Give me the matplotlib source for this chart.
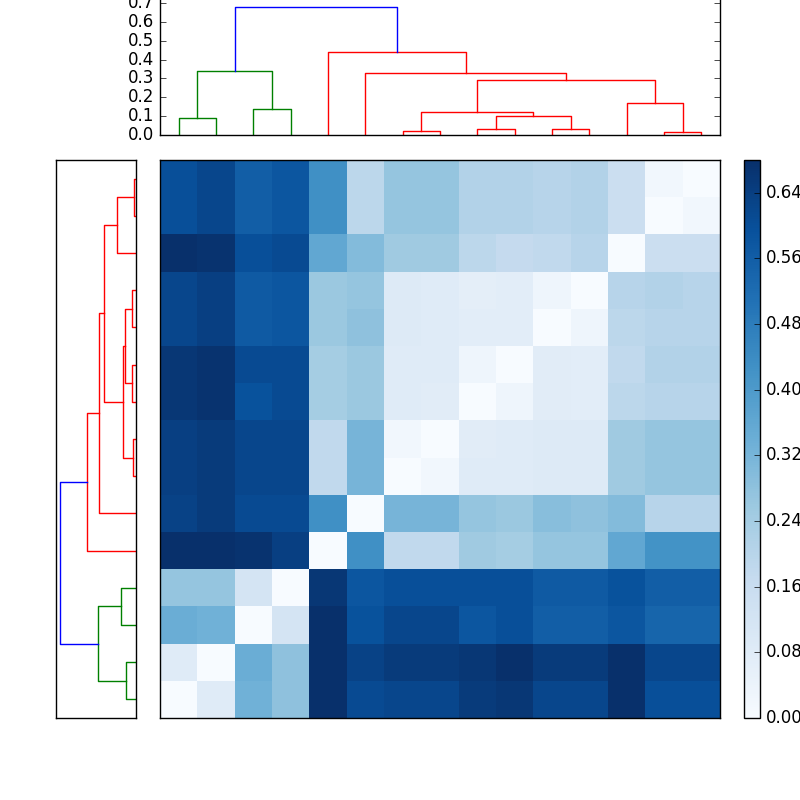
import numpy as np
import matplotlib
matplotlib.use("Agg")
import matplotlib.pyplot as plt

plt.style.use("classic")

# distance matrix, rows listed top to bottom (row 14 .. row 0), columns 0..14
rows_top_down = [
    [0.60, 0.62, 0.56, 0.58, 0.43, 0.19, 0.27, 0.27, 0.21, 0.21, 0.20, 0.21, 0.15, 0.02, 0.00],
    [0.60, 0.62, 0.56, 0.58, 0.43, 0.19, 0.27, 0.27, 0.21, 0.21, 0.20, 0.21, 0.15, 0.00, 0.02],
    [0.68, 0.67, 0.60, 0.61, 0.36, 0.30, 0.25, 0.25, 0.19, 0.17, 0.18, 0.20, 0.00, 0.15, 0.15],
    [0.62, 0.64, 0.57, 0.58, 0.26, 0.27, 0.09, 0.08, 0.065, 0.07, 0.03, 0.00, 0.20, 0.21, 0.20],
    [0.62, 0.64, 0.57, 0.58, 0.26, 0.28, 0.09, 0.08, 0.07, 0.07, 0.00, 0.03, 0.19, 0.20, 0.20],
    [0.66, 0.67, 0.61, 0.61, 0.24, 0.26, 0.08, 0.08, 0.03, 0.00, 0.075, 0.07, 0.18, 0.21, 0.21],
    [0.66, 0.67, 0.59, 0.61, 0.24, 0.26, 0.08, 0.075, 0.00, 0.03, 0.075, 0.07, 0.19, 0.20, 0.20],
    [0.64, 0.65, 0.62, 0.62, 0.18, 0.32, 0.02, 0.00, 0.075, 0.08, 0.09, 0.085, 0.25, 0.27, 0.27],
    [0.64, 0.65, 0.62, 0.62, 0.18, 0.32, 0.00, 0.02, 0.08, 0.08, 0.09, 0.085, 0.25, 0.27, 0.27],
    [0.63, 0.65, 0.61, 0.61, 0.43, 0.00, 0.32, 0.32, 0.27, 0.26, 0.29, 0.28, 0.30, 0.20, 0.20],
    [0.68, 0.68, 0.67, 0.64, 0.00, 0.43, 0.18, 0.18, 0.25, 0.24, 0.27, 0.27, 0.36, 0.42, 0.42],
    [0.27, 0.27, 0.12, 0.00, 0.66, 0.58, 0.60, 0.60, 0.60, 0.60, 0.57, 0.57, 0.59, 0.56, 0.56],
    [0.34, 0.33, 0.00, 0.12, 0.68, 0.59, 0.62, 0.62, 0.58, 0.60, 0.56, 0.56, 0.58, 0.54, 0.54],
    [0.08, 0.00, 0.34, 0.28, 0.68, 0.63, 0.65, 0.65, 0.66, 0.68, 0.65, 0.65, 0.68, 0.62, 0.62],
    [0.00, 0.08, 0.33, 0.28, 0.68, 0.61, 0.62, 0.62, 0.65, 0.66, 0.62, 0.62, 0.68, 0.60, 0.60],
]

# linkage (child a, child b, height); leaves 0..14 are in display order
top_links = [
    (13, 14, 0.016), (6, 7, 0.02), (8, 9, 0.03), (10, 11, 0.033), (0, 1, 0.09),
    (17, 18, 0.10), (16, 20, 0.12), (2, 3, 0.14), (12, 15, 0.17), (21, 23, 0.29),
    (5, 24, 0.33), (19, 22, 0.34), (4, 25, 0.44), (26, 27, 0.68),
]
left_links = [
    (13, 14, 0.015), (6, 7, 0.025), (10, 11, 0.033), (8, 9, 0.033), (0, 1, 0.09),
    (18, 17, 0.10), (16, 20, 0.12), (2, 3, 0.137), (12, 15, 0.17), (21, 23, 0.29),
    (5, 24, 0.33), (19, 22, 0.34), (4, 25, 0.44), (26, 27, 0.68),
]
N = 15


def draw_dendro(ax, links, orient):
    pos = {i: 10 * i + 5 for i in range(N)}
    hgt = {i: 0.0 for i in range(N)}
    kids = {}
    for j, (a, b, h) in enumerate(links):
        nid = N + j
        kids[nid] = (a, b)
        pos[nid] = (pos[a] + pos[b]) / 2.0
        hgt[nid] = h

    # colour each link by the root's subtree it sits in (green, then red)
    col = {}
    def paint(node, c):
        if node in kids:
            col[node] = c
            for ch in kids[node]:
                paint(ch, c)
    root = N + len(links) - 1
    col[root] = "b"
    for ch, c in zip(kids[root], ["g", "r"]):
        paint(ch, c)

    for nid, (a, b) in kids.items():
        xs = [pos[a], pos[a], pos[b], pos[b]]
        ys = [hgt[a], hgt[nid], hgt[nid], hgt[b]]
        if orient == "top":
            ax.plot(xs, ys, color=col[nid], lw=1)
        else:
            ax.plot(ys, xs, color=col[nid], lw=1)


fig = plt.figure(figsize=(8, 8), dpi=100, facecolor="white")

ax_top = fig.add_axes([0.2, 0.83125, 0.7, 0.1768])
draw_dendro(ax_top, top_links, "top")
ax_top.set_xlim(0, 150)
ax_top.set_ylim(0, 0.75)
ax_top.set_yticks(np.arange(0, 0.71, 0.1))
ax_top.set_xticks([])

ax_left = fig.add_axes([0.07, 0.1025, 0.1, 0.6975])
draw_dendro(ax_left, left_links, "left")
ax_left.set_xlim(0.716, 0)
ax_left.set_ylim(0, 150)
ax_left.set_xticks([])
ax_left.set_yticks([])

ax_h = fig.add_axes([0.2, 0.1025, 0.7, 0.6975])
D = np.array(rows_top_down)
im = ax_h.imshow(D, cmap="Blues", aspect="auto", interpolation="nearest",
                 vmin=0, vmax=D.max(), origin="upper")
ax_h.set_xticks([])
ax_h.set_yticks([])

ax_cb = fig.add_axes([0.93, 0.1025, 0.02, 0.6975])
cb = fig.colorbar(im, cax=ax_cb, ticks=np.arange(0, 0.65, 0.08))
cb.ax.set_yticklabels(["%.2f" % t for t in np.arange(0, 0.65, 0.08)])

fig.savefig("out.png", dpi=100, facecolor="white")
